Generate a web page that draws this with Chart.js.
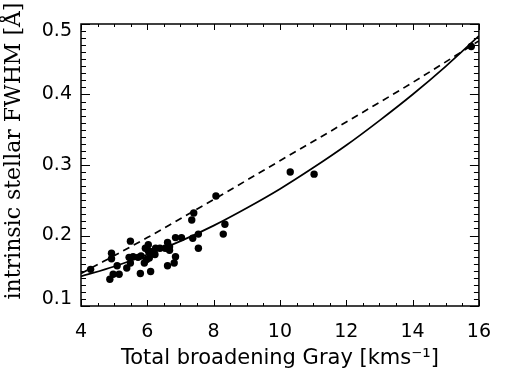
<!DOCTYPE html>
<html><head><meta charset="utf-8">
<script src="https://cdn.jsdelivr.net/npm/chart.js@4.4.1/dist/chart.umd.min.js"></script>
<style>html,body{margin:0;padding:0;background:#fff}canvas{display:block}</style>
</head><body>
<canvas id="c" width="506" height="371"></canvas>
<script>
// Tick labels
const xTicks = [4, 6, 8, 10, 12, 14, 16];
const yTicks = [0.1, 0.2, 0.3, 0.4, 0.5];

// Measured stars: total broadening (km/s) vs intrinsic stellar FWHM (Å)
const starBroad = [4.29,4.87,4.92,4.92,4.97,5.09,5.15,5.38,5.45,5.49,5.49,5.57,5.72,5.79,5.81,5.91,5.94,5.98,6.03,6.03,6.06,6.10,6.13,6.23,6.25,6.38,6.54,6.61,6.61,6.67,6.67,6.81,6.85,6.85,7.03,7.34,7.37,7.40,7.54,7.54,8.07,8.29,8.34,10.31,11.03,15.77];
const starFwhm  = [0.152,0.138,0.175,0.167,0.145,0.157,0.145,0.154,0.169,0.192,0.161,0.170,0.169,0.146,0.171,0.161,0.182,0.166,0.187,0.178,0.168,0.149,0.177,0.173,0.182,0.182,0.182,0.157,0.190,0.184,0.179,0.161,0.170,0.197,0.197,0.222,0.196,0.232,0.202,0.182,0.256,0.202,0.216,0.290,0.287,0.468];

// Solid curve
const curveX = [4,5,6,7,8,9,10,11,12,13,14,15,16];
const curveY = [0.142,0.156,0.173,0.192,0.214,0.239,0.266,0.296,0.328,0.363,0.400,0.440,0.483];

// Dashed line
const dashX = [4,6,8,10,12,14,16];
const dashY = [0.146,0.197,0.251,0.306,0.361,0.417,0.476];

const pts = (xs, ys) => xs.map((v, i) => ({x: v, y: ys[i]}));

const frameTicks = {
  id: 'frameTicks',
  afterDatasetsDraw(chart) {
    const {ctx, chartArea: a, scales: {x, y}} = chart;
    ctx.save();
    ctx.strokeStyle = '#000';
    ctx.lineWidth = 1;
    ctx.beginPath();
    for (let i = 0; i <= 24; i++) {
      const v = x.min + i * 0.5;
      const px = Math.round(x.getPixelForValue(v)) + 0.5;
      const L = (i % 4 === 0) ? 6 : 3;
      ctx.moveTo(px, a.bottom); ctx.lineTo(px, a.bottom - L);
      ctx.moveTo(px, a.top); ctx.lineTo(px, a.top + L);
    }
    for (let i = 0; i <= 40; i++) {
      const v = y.min + i * 0.01;
      const py = Math.round(y.getPixelForValue(v)) + 0.5;
      const L = (i % 10 === 0) ? 9 : 5;
      ctx.moveTo(a.left, py); ctx.lineTo(a.left + L, py);
      ctx.moveTo(a.right, py); ctx.lineTo(a.right - L, py);
    }
    ctx.stroke();
    ctx.lineWidth = 1.5;
    ctx.strokeRect(a.left, a.top, a.right - a.left, a.bottom - a.top);
    ctx.restore();
  }
};

new Chart(document.getElementById('c'), {
  type: 'scatter',
  data: {
    datasets: [
      {
        data: pts(starBroad, starFwhm),
        backgroundColor: '#000', borderWidth: 0,
        pointRadius: 3.7, pointHoverRadius: 3.7, showLine: false
      },
      {
        data: pts(curveX, curveY),
        showLine: true, borderColor: '#000', borderWidth: 1.7,
        pointRadius: 0, cubicInterpolationMode: 'monotone', fill: false
      },
      {
        data: pts(dashX, dashY),
        showLine: true, borderColor: '#000', borderWidth: 1.7,
        borderDash: [7, 5], pointRadius: 0, cubicInterpolationMode: 'monotone', fill: false
      }
    ]
  },
  options: {
    responsive: false,
    devicePixelRatio: 1,
    animation: false,
    events: [],
    layout: {padding: {top: 24, right: 13, left: 0, bottom: 0}},
    plugins: {legend: {display: false}, tooltip: {enabled: false}},
    scales: {
      x: {
        type: 'linear', min: 4, max: 16,
        afterBuildTicks: s => { s.ticks = xTicks.map(v => ({value: v})); },
        afterFit: s => { s.height = 65; },
        grid: {display: false, drawTicks: false},
        border: {display: false},
        ticks: {
          autoSkip: false, maxRotation: 0, padding: 15, color: '#000',
          font: {family: 'DejaVu Sans', size: 19},
          callback: v => String(v)
        },
        title: {
          display: true, text: 'Total broadening Gray [kms\u207B\u00B9]', color: '#000',
          font: {family: 'DejaVu Sans', size: 21}, padding: {top: 0, bottom: 0}
        }
      },
      y: {
        type: 'linear', min: 0.1, max: 0.5,
        afterBuildTicks: s => { s.ticks = yTicks.map(v => ({value: v})); },
        afterFit: s => { s.width = 81; },
        grid: {display: false, drawTicks: false},
        border: {display: false},
        ticks: {
          autoSkip: false, padding: 9, color: '#000',
          font: {family: 'DejaVu Sans', size: 19, lineHeight: '14px'},
          callback: v => {
            const t = Number(v).toFixed(1);
            if (Math.abs(v - 0.5) < 1e-6) return ['', t];
            if (Math.abs(v - 0.1) < 1e-6) return [t, ''];
            return t;
          }
        },
        title: {
          display: true, text: '    intrinsic stellar FWHM [\u00C5]', color: '#000',
          font: {family: 'DejaVu Serif', size: 22}, padding: {top: 1, bottom: 0}
        }
      }
    }
  },
  plugins: [frameTicks]
});
</script>
</body></html>
